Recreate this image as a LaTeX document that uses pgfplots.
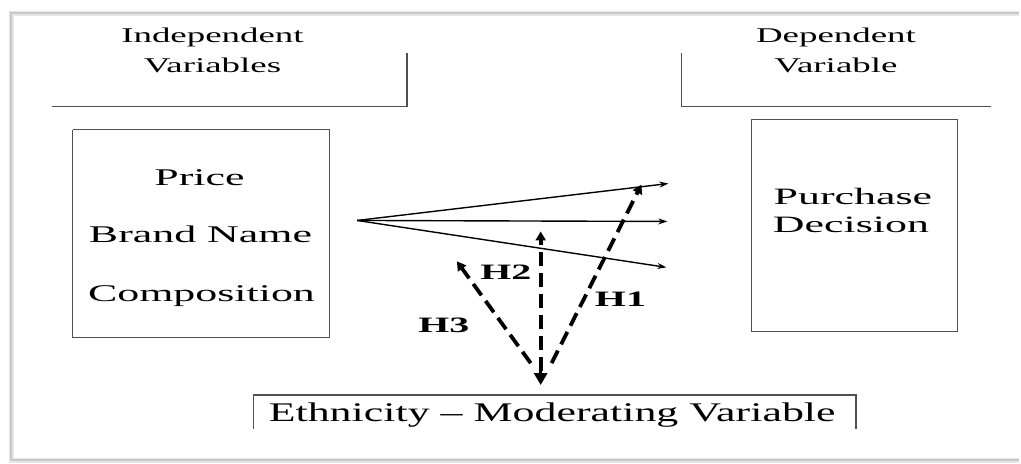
\documentclass[border=0pt]{standalone}
\usepackage{pgfplots}
\pgfplotsset{compat=1.18}
\usepackage{fontspec}
\setmainfont{Liberation Serif}
\usetikzlibrary{arrows.meta}
\definecolor{frm}{HTML}{C8C8C8}
\definecolor{frs}{HTML}{E6E6E6}
\definecolor{ln}{HTML}{505050}
\begin{document}
\begin{tikzpicture}
\begin{axis}[
  width=1021pt, height=465pt, scale only axis,
  xmin=0, xmax=1021, ymin=0, ymax=465, y dir=reverse,
  axis lines=none, clip=false,
]
% background
\addplot[draw=none, fill=white] coordinates {(0,0) (1021,0) (1021,465) (0,465)} \closedcycle;
% outer page frame
\addplot[frs, line width=5pt] coordinates {(1021,14) (12,14) (12,462) (1021,462)};
\addplot[frm, line width=1.6pt] coordinates {(1021,13) (11,13) (11,461) (1021,461)};
% header brackets
\addplot[ln, line width=1.3pt] coordinates {(52,107) (408,107) (408,53)};
\addplot[ln, line width=1.3pt] coordinates {(683,53) (683,107) (993,107)};
% left box
\addplot[ln, line width=1.3pt] coordinates {(73,130) (330,130) (330,338) (73,338) (73,130)};
% right box
\addplot[ln, line width=1.3pt] coordinates {(753,120) (960,120) (960,332) (753,332) (753,120)};
% bottom box (open at bottom)
\addplot[ln, line width=1.3pt] coordinates {(254,430) (254,396) (858,396) (858,430)};
% solid arrows
\addplot[black, line width=1.4pt, -{Stealth[length=9pt,width=6pt]}] coordinates {(358,221) (670,184)};
\addplot[black, line width=1.4pt, -{Stealth[length=9pt,width=6pt]}] coordinates {(358,221) (669,222)};
\addplot[black, line width=1.4pt, -{Stealth[length=9pt,width=6pt]}] coordinates {(358,221) (668,268)};
% dashed arrows
\addplot[black, line width=3.8pt, dash pattern=on 14pt off 7pt, -{Triangle[length=9pt,width=10pt]}] coordinates {(542,372) (542,232)};
\addplot[black, line width=3.8pt, dash pattern=on 14pt off 7pt, -{Triangle[length=9pt,width=10pt]}] coordinates {(553,364) (643,185)};
\addplot[black, line width=3.8pt, dash pattern=on 14pt off 7pt, -{Triangle[length=9pt,width=10pt]}] coordinates {(532,364) (458,262)};
\addplot[black, line width=3.5pt, -{Triangle[length=12pt,width=13pt]}] coordinates {(542,368) (542,386)};
% texts (reference text is stretched horizontally)
\tikzset{txt/.style n args={2}{xscale=#1, yscale=#2, transform shape, inner sep=0pt, anchor=base}}
\node[txt={3.7}{2.1}] at (axis cs:213,43) {Independent};
\node[txt={3.7}{2.1}] at (axis cs:213,73) {Variables};
\node[txt={3.7}{2.1}] at (axis cs:838,43) {Dependent};
\node[txt={3.7}{2.1}] at (axis cs:838,73) {Variable};
\node[txt={4.4}{2.4}] at (axis cs:200,186) {Price};
\node[txt={4.4}{2.4}] at (axis cs:201,243) {Brand Name};
\node[txt={4.4}{2.4}] at (axis cs:202,302) {Composition};
\node[txt={4.4}{2.35}] at (axis cs:855,205) {Purchase};
\node[txt={4.4}{2.35}] at (axis cs:853,233) {Decision};
\node[txt={4.4}{2.7}] at (axis cs:553.5,423) {Ethnicity -- Moderating Variable};
\node[txt={4.0}{2.2}, font=\bfseries] at (axis cs:507,280) {H2};
\node[txt={4.0}{2.2}, font=\bfseries] at (axis cs:622,307) {H1};
\node[txt={4.0}{2.2}, font=\bfseries] at (axis cs:445,333) {H3};
\end{axis}
\end{tikzpicture}
\end{document}
